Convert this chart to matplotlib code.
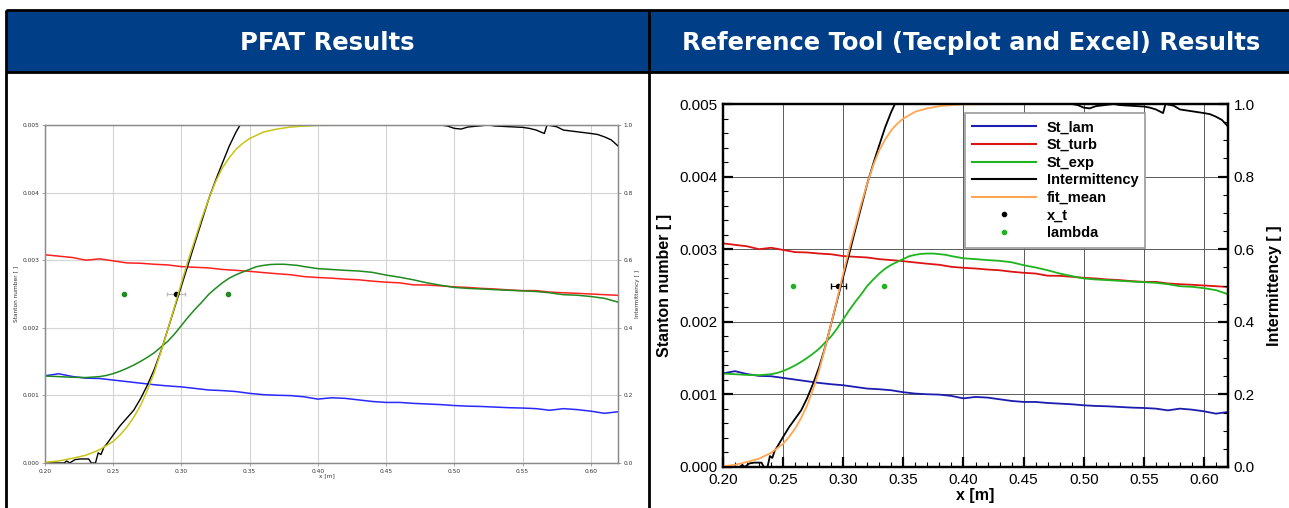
"""Side-by-side comparison of Stanton number / intermittency plots."""

import matplotlib as mpl
import matplotlib.pyplot as plt
from matplotlib.lines import Line2D
from matplotlib.patches import Rectangle

mpl.use("Agg")

# Stanton number samples along the plate (x in metres, St in units of 1e-3)
x_st = [0.20, 0.21, 0.22, 0.23, 0.24, 0.25, 0.26, 0.27, 0.28, 0.29, 0.30,
        0.31, 0.32, 0.33, 0.34, 0.35, 0.36, 0.37, 0.38, 0.39, 0.40, 0.41,
        0.42, 0.43, 0.44, 0.45, 0.46, 0.47, 0.48, 0.49, 0.50, 0.51, 0.52,
        0.53, 0.54, 0.55, 0.56, 0.57, 0.58, 0.59, 0.60, 0.61, 0.62]
st_lam = [1.29, 1.32, 1.28, 1.255, 1.25, 1.227, 1.204, 1.181, 1.158, 1.14,
          1.126, 1.103, 1.08, 1.071, 1.057, 1.03, 1.011, 1.002, 0.997, 0.979,
          0.945, 0.965, 0.956, 0.933, 0.91, 0.896, 0.896, 0.882, 0.873, 0.864,
          0.85, 0.841, 0.836, 0.827, 0.818, 0.813, 0.804, 0.78, 0.804, 0.79,
          0.767, 0.735, 0.758]
st_turb = [3.08, 3.06, 3.04, 3.00, 3.02, 2.99, 2.96, 2.955, 2.94, 2.93,
           2.905, 2.895, 2.886, 2.863, 2.85, 2.835, 2.817, 2.80, 2.785, 2.757,
           2.744, 2.734, 2.72, 2.71, 2.69, 2.675, 2.665, 2.635, 2.633, 2.62,
           2.606, 2.597, 2.583, 2.574, 2.56, 2.55, 2.55, 2.528, 2.518, 2.51,
           2.50, 2.49, 2.48]

# Experimental Stanton number, sampled more densely through the transition
x_exp = [0.20, 0.21, 0.22, 0.23, 0.24, 0.245, 0.25, 0.255, 0.26, 0.265,
         0.27, 0.275, 0.28, 0.285, 0.29, 0.295, 0.30, 0.305, 0.31, 0.315,
         0.32, 0.325, 0.33, 0.335, 0.34, 0.345, 0.35, 0.355, 0.36, 0.365,
         0.37, 0.375, 0.38, 0.385, 0.39, 0.40, 0.41, 0.42, 0.43, 0.44, 0.45,
         0.46, 0.47, 0.48, 0.49, 0.50, 0.51, 0.52, 0.53, 0.54, 0.55, 0.56,
         0.57, 0.58, 0.59, 0.60, 0.61, 0.62]
st_exp = [1.287, 1.278, 1.268, 1.264, 1.278, 1.295, 1.322, 1.358, 1.40,
          1.448, 1.503, 1.563, 1.63, 1.715, 1.80, 1.91, 2.035, 2.16, 2.275,
          2.38, 2.495, 2.583, 2.665, 2.734, 2.785, 2.826, 2.865, 2.904, 2.923,
          2.936, 2.94, 2.94, 2.932, 2.923, 2.905, 2.875, 2.863, 2.85, 2.84,
          2.82, 2.78, 2.748, 2.71, 2.665, 2.63, 2.597, 2.583, 2.574, 2.564,
          2.555, 2.546, 2.537, 2.518, 2.49, 2.482, 2.463, 2.436, 2.38]

# Measured intermittency
x_int = [0.200, 0.214, 0.216, 0.218, 0.222, 0.226, 0.232, 0.234, 0.237,
         0.239, 0.241, 0.243, 0.245, 0.250, 0.255, 0.260, 0.265, 0.270,
         0.275, 0.280, 0.285, 0.290, 0.295, 0.300, 0.305, 0.310, 0.315,
         0.320, 0.325, 0.330, 0.335, 0.340, 0.343, 0.400, 0.450, 0.490,
         0.495, 0.500, 0.505, 0.510, 0.520, 0.525, 0.530, 0.540, 0.550,
         0.555, 0.560, 0.566, 0.568, 0.575, 0.580, 0.590, 0.600, 0.605,
         0.610, 0.615, 0.620]
intermittency = [0.0, 0.0, 0.006, 0.0, 0.010, 0.012, 0.012, 0.0, 0.0,
                 0.03, 0.025, 0.045, 0.055, 0.083, 0.11, 0.133, 0.156, 0.19,
                 0.23, 0.276, 0.331, 0.395, 0.46, 0.524, 0.588, 0.653, 0.717,
                 0.781, 0.836, 0.887, 0.937, 0.979, 1.0, 1.0, 1.0, 1.0,
                 0.997, 0.99, 0.988, 0.994, 0.998, 1.0, 0.997, 0.995, 0.993,
                 0.99, 0.985, 0.975, 1.0, 0.995, 0.985, 0.98, 0.975, 0.972,
                 0.965, 0.956, 0.938]

# Fitted mean intermittency
x_fit = [0.20, 0.21, 0.22, 0.23, 0.24, 0.25, 0.255, 0.26, 0.265, 0.27,
         0.275, 0.28, 0.285, 0.29, 0.295, 0.30, 0.305, 0.31, 0.315, 0.32,
         0.325, 0.33, 0.335, 0.34, 0.345, 0.35, 0.36, 0.37, 0.38, 0.39,
         0.40, 0.45, 0.50, 0.55, 0.62]
fit_mean = [0.002, 0.006, 0.014, 0.023, 0.039, 0.064, 0.083, 0.106, 0.135,
            0.17, 0.215, 0.267, 0.33, 0.395, 0.463, 0.533, 0.6, 0.662, 0.725,
            0.781, 0.832, 0.873, 0.903, 0.928, 0.946, 0.96, 0.979, 0.988,
            0.994, 0.997, 0.999, 1.0, 1.0, 1.0, 1.0]

# Transition location and lambda markers (St level 2.5e-3)
x_t = 0.296
x_t_err = 0.0063
x_lambda = [0.258, 0.334]
marker_st = 2.5

x_ticks = [0.20, 0.25, 0.30, 0.35, 0.40, 0.45, 0.50, 0.55, 0.60]
header_titles = ["PFAT Results", "Reference Tool (Tecplot and Excel) Results"]

W, H = 1289, 508
HEADER_BLUE = "#003f87"


def scaled(values):
    return [v * 1e-3 for v in values]


def draw_frame(figure):
    """Table frame with the two blue header cells."""
    bg = figure.add_axes([0, 0, 1, 1])
    bg.set_xlim(0, W)
    bg.set_ylim(H, 0)
    bg.axis("off")
    bg.add_patch(Rectangle((6, 10), W - 6, 62, facecolor=HEADER_BLUE,
                           edgecolor="none"))
    bg.hlines([10, 72], 6, W, color="black", lw=2)
    bg.vlines([6, 649], 10, H, color="black", lw=2)
    for cx, title in zip([327, 971], header_titles):
        bg.text(cx, 43, title, color="white", fontsize=17.5,
                fontweight="bold", ha="center", va="center",
                family="DejaVu Sans")
    return bg


def px_axes(figure, left, top, right, bottom):
    return figure.add_axes([left / W, 1 - bottom / H,
                            (right - left) / W, (bottom - top) / H])


def draw_pfat(figure):
    ax = px_axes(figure, 45, 125, 618, 463)
    ax2 = ax.twinx()
    ax.set_zorder(1)
    ax2.set_zorder(2)
    ax.patch.set_visible(True)
    ax2.patch.set_visible(False)

    ax.plot(x_st, scaled(st_lam), color="#2828ff", lw=1.1)
    ax.plot(x_st, scaled(st_turb), color="#ff2020", lw=1.1)
    ax.plot(x_exp, scaled(st_exp), color="#1f8a1f", lw=1.1)
    ax.errorbar([x_t], [marker_st * 1e-3], xerr=[[x_t_err], [x_t_err]],
                fmt="o", color="black", ms=3, ecolor="#bbbbbb",
                elinewidth=0.8, capsize=1.5)
    ax.plot(x_lambda, [marker_st * 1e-3] * 2, "o", color="#1f8a1f", ms=3)
    ax2.plot(x_int, intermittency, color="black", lw=1.0)
    ax2.plot(x_fit, fit_mean, color="#c8c414", lw=1.1)

    ax.set_xlim(0.20, 0.62)
    ax.set_ylim(0, 0.005)
    ax2.set_ylim(0, 1.0)
    ax.set_xticks(x_ticks)
    ax.set_yticks([0, 0.001, 0.002, 0.003, 0.004, 0.005])
    ax2.set_yticks([0, 0.2, 0.4, 0.6, 0.8, 1.0])
    ax.set_xticklabels([f"{t:.2f}" for t in x_ticks])
    ax.set_yticklabels([f"{t:.3f}" for t in ax.get_yticks()])
    ax2.set_yticklabels([f"{t:.1f}" for t in ax2.get_yticks()])
    ax.grid(True, color="#d4d4d4", lw=0.8)

    for a in (ax, ax2):
        for spine in a.spines.values():
            spine.set_color("#8a8a8a")
            spine.set_linewidth(0.9)
        a.tick_params(labelsize=4.2, length=2.5, width=0.5, pad=1.5,
                      color="#8a8a8a", labelcolor="#333333")

    ax.set_xlabel("x [m]", fontsize=4.2, color="#333333")
    ax.xaxis.set_label_coords(0.492, -0.03)
    ax.set_ylabel("Stanton number [ ]", fontsize=4.2, color="#333333")
    ax.yaxis.set_label_coords(-0.047, 0.5)
    ax2.set_ylabel("Intermittency [ ]", fontsize=4.2, color="#333333")
    ax2.yaxis.set_label_coords(1.030, 0.5)


def draw_reference(figure):
    ax = px_axes(figure, 723, 104, 1228, 467)
    ax2 = ax.twinx()

    c_lam, c_turb, c_exp, c_fit = "#1c1cb0", "#dc1414", "#1eb41e", "#ffa554"
    ax.plot(x_st, scaled(st_lam), color=c_lam, lw=1.3)
    ax.plot(x_st, scaled(st_turb), color=c_turb, lw=1.3)
    ax.plot(x_exp, scaled(st_exp), color=c_exp, lw=1.3)
    ax.errorbar([x_t], [marker_st * 1e-3], xerr=[[x_t_err], [x_t_err]],
                fmt="o", color="black", ms=3, ecolor="black",
                elinewidth=0.7, capsize=2.5)
    ax.plot(x_lambda, [marker_st * 1e-3] * 2, "o", color=c_exp, ms=3)
    ax2.plot(x_int, intermittency, color="black", lw=1.3)
    ax2.plot(x_fit, fit_mean, color=c_fit, lw=1.3)

    ax.set_xlim(0.20, 0.62)
    ax.set_ylim(0, 0.005)
    ax2.set_ylim(0, 1.0)
    ax.set_xticks(x_ticks)
    ax.set_xticks([x / 100 for x in range(21, 63)], minor=True)
    ax.set_yticks([0, 0.001, 0.002, 0.003, 0.004, 0.005])
    ax.set_yticks([v * 0.0002 for v in range(26)], minor=True)
    ax2.set_yticks([0, 0.2, 0.4, 0.6, 0.8, 1.0])
    ax2.set_yticks([v * 0.05 for v in range(21)], minor=True)
    ax.set_xticklabels([f"{t:.2f}" for t in x_ticks])
    ax.set_yticklabels([f"{t:.3f}" for t in ax.get_yticks()])
    ax2.set_yticklabels([f"{t:.1f}" for t in ax2.get_yticks()])
    ax.grid(True, which="major", color="#5a5a5a", lw=0.7)

    for a in (ax, ax2):
        for spine in a.spines.values():
            spine.set_linewidth(1.6)
        a.tick_params(which="major", direction="in", length=7, width=1.6,
                      labelsize=11, pad=4)
        a.tick_params(which="minor", direction="in", length=3.5, width=0.8)
        for label in a.get_xticklabels() + a.get_yticklabels():
            label.set_family("Liberation Sans")
    ax.tick_params(axis="x", which="both", top=False)

    ax.set_xlabel("x [m]", fontsize=11.5, fontweight="bold",
                  family="Liberation Sans")
    ax.xaxis.set_label_coords(0.499, -0.058)
    ax.set_ylabel("Stanton number [ ]", fontsize=11.5, fontweight="bold",
                  family="Liberation Sans")
    ax.yaxis.set_label_coords(-0.101, 0.5)
    ax2.set_ylabel("Intermittency [ ]", fontsize=11.5, fontweight="bold",
                   family="Liberation Sans")
    ax2.yaxis.set_label_coords(1.077, 0.5)

    handles = [
        Line2D([], [], color=c_lam, lw=1.5),
        Line2D([], [], color=c_turb, lw=1.5),
        Line2D([], [], color=c_exp, lw=1.5),
        Line2D([], [], color="black", lw=1.5),
        Line2D([], [], color=c_fit, lw=1.5),
        Line2D([], [], color="black", marker="o", ms=3, ls="none"),
        Line2D([], [], color=c_exp, marker="o", ms=3, ls="none"),
    ]
    labels = ["St_lam", "St_turb", "St_exp", "Intermittency", "fit_mean",
              "x_t", "lambda"]
    legend = ax2.legend(handles, labels, loc="upper left",
                        bbox_to_anchor=(0.479, 0.975), borderaxespad=0,
                        fancybox=False, framealpha=1, edgecolor="#9a9a9a",
                        handlelength=4.4, labelspacing=0.25, handletextpad=0.7,
                        borderpad=0.5,
                        prop={"family": "Liberation Sans", "weight": "bold",
                              "size": 10.5})
    legend.get_frame().set_linewidth(1.2)


figure = plt.figure(figsize=(W / 100, H / 100), dpi=100)
draw_frame(figure)
draw_pfat(figure)
draw_reference(figure)
figure.savefig("out.png", dpi=100)
plt.close(figure)
